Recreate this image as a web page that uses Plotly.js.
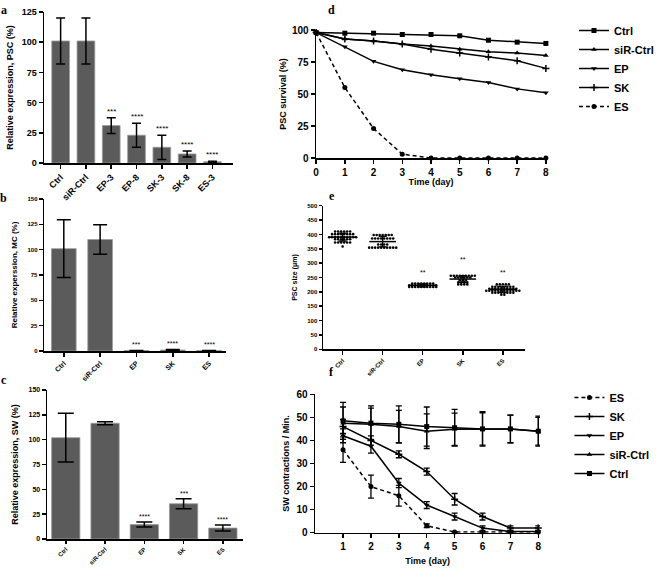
<!DOCTYPE html>
<html><head><meta charset="utf-8">
<script src="https://cdn.plot.ly/plotly-3.0.1.min.js"></script>
<style>html,body{margin:0;padding:0;background:#fff}#chart{width:659px;height:568px}</style>
</head><body><div id="chart"></div>
<script>
// ---------- Panel a ----------
const aCats = ['Ctrl','siR-Ctrl','EP-3','EP-8','SK-3','SK-8','ES-3'];
const aVals = [101,101,31,23,13,7.5,1];
const aErr = [19,19,6.5,10,10,2.5,0.5];
const aStars = ['','','***','****','****','****','****'];
// ---------- Panel b ----------
const bCats = ['Ctrl','siR-Ctrl','EP','SK','ES'];
const bVals = [101,110,0.5,1,0.5];
const bErr = [28.5,14.5,0,0.5,0];
const bStars = ['','','***','****','****'];
// ---------- Panel c ----------
const cCats = ['Ctrl','siR-Ctrl','EP','SK','ES'];
const cVals = [102,116.5,14.5,35.5,11];
const cErr = [24.5,1.5,2.5,5,3];
const cStars = ['','','****','***','****'];
// ---------- Panel d ----------
const dDays = [0,1,2,3,4,5,6,7,8];
const dCtrl = [98,97.5,97.5,96.5,96.5,95.5,92,90.5,89.5];
const dSiR  = [98,93,91.5,89,87.5,85,83,82,80];
const dEP   = [98,87,75.5,69,65,62,59,54,51];
const dSK   = [98,93,91.5,89,85,82,79,76,70];
const dES   = [98,55,23,3,0,0,0,0,0];
// ---------- Panel e ----------
const eCats = ['Ctrl','siR-Ctrl','EP','SK','ES'];
const eCtrl = [410,410,410,410,410,410, 401,401,401,401,401,401,401,401, 390,390,390,390,390,390,390,390,390,390, 383,383,383,383,383,383, 372,372,372,372,372,372, 358];
const eSiR  = [398,398,398,398,398,398,398, 386,386,386,386,386,386,386,386, 365,365,365,365, 354,354,354,354,354,354,354,354,354,354];
const eEP   = [229,229,229,229,229,229,229,229, 223,223,223,223,223,223,223,223,223,223, 217,217,217,217,217,217,217,217,217,217];
const eSK   = [256,256,256,256,256,256,256,256,256, 250,250,250,250,250,250, 240,240,240, 233,233,233,233, 226,226,226,226];
const eES   = [226,226,226,226,226, 218,218,218,218,218,218,218,218, 211,211,211,211,211,211,211,211,211,211, 204,204,204,204,204,204,204,204,204,204,204,204, 197,197,197,197,197,197,197,197, 190,190];
const eStars = ['','','**','**','**'];
const eStarY = [0,0,269,314,269];
// ---------- Panel f ----------
const fDays = [1,2,3,4,5,6,7,8];
const fES    = [36,20,16,3,0.3,0.3,0.3,0.3];
const fESerr = [5.5,5,4.5,0.8,0.2,0.2,0.2,0.2];
const fSK    = [46,40,34,26.5,14.5,7,2,2];
const fSKerr = [3,2,1.5,1.5,2.5,1.5,1,1];
const fEP    = [42,37.5,21.5,12,7,2,0.5,0.5];
const fEPerr = [3,3,2,1.5,1.5,1,0.5,0.5];
const fSiR   = [47.5,47,46,44,44.8,45,45,44];
const fSiRerr= [7,7,7,7.5,7,7,6,6];
const fCtrl  = [48.5,47.5,47,46,45.5,45,45,44];
const fCtrlerr=[8,7.5,8,8.5,8,7.5,6,6.5];

const BAR = '#5b5b5b';
const FONT = 'Arial, "Liberation Sans", sans-serif';
const DASH = '4px,3px';
const W = 659, H = 568;
const px = v => v / W, py = v => 1 - v / H;

const traces = [];
const annotations = [];

function barPanel(cats, vals, err, stars, xa, ya, bw, capw, starSize) {
  const xs = cats.map((c, i) => i);
  traces.push({
    type: 'bar', x: xs, y: vals, width: bw, xaxis: xa, yaxis: ya,
    marker: {color: BAR, line: {color: '#9a9a9a', width: 0.8}},
    error_y: {type: 'data', array: err, visible: true, color: '#000', thickness: 1.5, width: capw},
    showlegend: false, hoverinfo: 'skip'
  });
  stars.forEach((s, i) => {
    if (!s) return;
    annotations.push({xref: xa, yref: ya, x: i, y: vals[i] + err[i], text: s, showarrow: false,
      yanchor: 'bottom', font: {family: FONT, size: starSize, color: '#000'}});
  });
}
barPanel(aCats, aVals, aErr, aStars, 'x', 'y', 0.7, 4.5, 8);
barPanel(bCats, bVals, bErr, bStars, 'x2', 'y2', 0.68, 7, 7);
barPanel(cCats, cVals, cErr, cStars, 'x3', 'y3', 0.72, 8, 7);

// ---------- d traces ----------
const dSeries = [
  ['Ctrl', dCtrl, 'square', 'solid'],
  ['siR-Ctrl', dSiR, 'triangle-up', 'solid'],
  ['EP', dEP, 'triangle-down', 'solid'],
  ['SK', dSK, 'cross-thin', 'solid'],
  ['ES', dES, 'circle', DASH]
];
dSeries.forEach(([name, ys, sym, dash]) => {
  traces.push({type: 'scatter', mode: 'lines+markers', name, x: dDays, y: ys, xaxis: 'x4', yaxis: 'y4',
    line: {color: '#000', width: 1.5, dash}, cliponaxis: false,
    marker: {symbol: sym, size: 5, color: '#000', line: {color: '#000', width: sym === 'cross-thin' ? 1.5 : 0}},
    legend: 'legend', hoverinfo: 'skip'});
});

// ---------- e traces ----------
function swarm(vals, center, step) {
  const counts = {}, seen = {};
  vals.forEach(v => counts[v] = (counts[v] || 0) + 1);
  return vals.map(v => { seen[v] = seen[v] || 0; const i = seen[v]++; return center + (i - (counts[v] - 1) / 2) * step; });
}
[eCtrl, eSiR, eEP, eSK, eES].forEach((vals, i) => {
  traces.push({type: 'scatter', mode: 'markers', x: swarm(vals, i, 0.075), y: vals, xaxis: 'x5', yaxis: 'y5',
    marker: {size: 2.6, color: '#000'}, showlegend: false, hoverinfo: 'skip', cliponaxis: false});
  const mean = vals.reduce((a, b) => a + b, 0) / vals.length;
  const sd = Math.sqrt(vals.reduce((a, b) => a + (b - mean) ** 2, 0) / (vals.length - 1));
  traces.push({type: 'scatter', mode: 'markers', x: [i], y: [mean], xaxis: 'x5', yaxis: 'y5',
    marker: {symbol: 'line-ew', size: 19, color: '#000', line: {color: '#000', width: 1.5}},
    error_y: {type: 'data', array: [sd], visible: true, color: '#000', thickness: 1.3, width: 4},
    showlegend: false, hoverinfo: 'skip', cliponaxis: false});
  if (eStars[i]) annotations.push({xref: 'x5', yref: 'y5', x: i, y: eStarY[i], text: eStars[i], showarrow: false,
    font: {family: FONT, size: 7, color: '#000'}});
});

// ---------- f traces ----------
const fSeries = [
  ['ES', fES, fESerr, 'circle', DASH],
  ['SK', fSK, fSKerr, 'cross-thin', 'solid'],
  ['EP', fEP, fEPerr, 'triangle-down', 'solid'],
  ['siR-Ctrl', fSiR, fSiRerr, 'triangle-up', 'solid'],
  ['Ctrl', fCtrl, fCtrlerr, 'square', 'solid']
];
fSeries.forEach(([name, ys, err, sym, dash]) => {
  traces.push({type: 'scatter', mode: 'lines+markers', name, x: fDays, y: ys, xaxis: 'x6', yaxis: 'y6',
    line: {color: '#000', width: 1.5, dash}, cliponaxis: false,
    marker: {symbol: sym, size: 5, color: '#000', line: {color: '#000', width: sym === 'cross-thin' ? 1.5 : 0}},
    error_y: {type: 'data', array: err, visible: true, color: '#000', thickness: 1.3, width: 3},
    legend: 'legend2', hoverinfo: 'skip'});
});

function axis(extra) {
  return Object.assign({
    showline: true, linecolor: '#000', linewidth: 1.5, ticks: 'outside', ticklen: 4, tickwidth: 1.5, tickcolor: '#000',
    showgrid: false, zeroline: false, fixedrange: true,
    tickfont: {family: FONT, size: 9, color: '#000', weight: 'bold'}
  }, extra);
}
const titleFont = s => ({family: FONT, size: s, color: '#000', weight: 'bold'});

const layout = {
  width: W, height: H, margin: {l: 0, r: 0, t: 0, b: 0},
  paper_bgcolor: '#fff', plot_bgcolor: 'rgba(0,0,0,0)',
  font: {family: FONT, color: '#000'},
  // a
  xaxis: axis({domain: [px(45), px(237)], range: [-0.65, 6.8], anchor: 'y', tickvals: aCats.map((c, i) => i), ticktext: aCats, tickangle: -45}),
  yaxis: axis({domain: [py(163), py(12)], range: [0, 125], dtick: 25, anchor: 'x',
    title: {text: 'Relative expression, PSC (%)', font: titleFont(9), standoff: 6}}),
  // b
  xaxis2: axis({domain: [px(45), px(230)], range: [-0.54, 4.46], anchor: 'y2', tickvals: bCats.map((c, i) => i), ticktext: bCats, tickangle: -45,
    tickfont: {family: FONT, size: 7, color: '#000', weight: 'bold'}}),
  yaxis2: axis({domain: [py(351), py(199)], range: [0, 150], dtick: 25, anchor: 'x2',
    tickfont: {family: FONT, size: 6, color: '#000', weight: 'bold'},
    title: {text: 'Relative experssion, MC (%)', font: titleFont(8), standoff: 8}}),
  // c
  xaxis3: axis({domain: [px(48), px(247)], range: [-0.475, 4.5], anchor: 'y3', tickvals: cCats.map((c, i) => i), ticktext: cCats, tickangle: -45,
    ticklen: 3, tickfont: {family: FONT, size: 6, color: '#000', weight: 'bold'}}),
  yaxis3: axis({domain: [py(539), py(390)], range: [0, 150], dtick: 25, anchor: 'x3',
    tickfont: {family: FONT, size: 7, color: '#000', weight: 'bold'},
    title: {text: 'Relative expression, SW (%)', font: titleFont(9), standoff: 8}}),
  // d
  xaxis4: axis({domain: [px(322), px(556)], range: [0, 8], dtick: 1, anchor: 'y4',
    tickfont: {family: FONT, size: 10, color: '#000', weight: 'bold'},
    title: {text: 'Time (day)', font: titleFont(9), standoff: 2}}),
  yaxis4: axis({domain: [py(158), py(30)], range: [0, 100], dtick: 25, anchor: 'x4',
    tickfont: {family: FONT, size: 10, color: '#000', weight: 'bold'},
    title: {text: 'PSC survival (%)', font: titleFont(9), standoff: 4}}),
  // e
  xaxis5: axis({domain: [px(329), px(535)], range: [-0.49, 4.56], anchor: 'y5', tickvals: eCats.map((c, i) => i), ticktext: eCats, tickangle: -45,
    tickfont: {family: FONT, size: 6, color: '#000', weight: 'bold'}}),
  yaxis5: axis({domain: [py(349.3), py(205.7)], range: [0, 500], dtick: 50, anchor: 'x5', ticklen: 3,
    tickfont: {family: FONT, size: 6, color: '#000', weight: 'bold'},
    title: {text: 'PSC size (μm)', font: titleFont(7), standoff: 9}}),
  // f
  xaxis6: axis({domain: [px(321), px(550)], range: [0, 8.06], tickvals: [1,2,3,4,5,6,7,8], anchor: 'y6',
    tickfont: {family: FONT, size: 10, color: '#000', weight: 'bold'},
    title: {text: 'Time (day)', font: titleFont(9), standoff: 6}}),
  yaxis6: axis({domain: [py(532.7), py(394.3)], range: [0, 60], dtick: 10, anchor: 'x6',
    tickfont: {family: FONT, size: 10, color: '#000', weight: 'bold'},
    title: {text: 'SW contractions / Min.', font: titleFont(9), standoff: 5}}),
  legend: {x: px(585), y: py(16), xanchor: 'left', yanchor: 'top', bgcolor: 'rgba(0,0,0,0)',
    font: {family: FONT, size: 11, color: '#000', weight: 'bold'}, tracegroupgap: 0, itemwidth: 30},
  legend2: {x: px(580), y: py(383), xanchor: 'left', yanchor: 'top', bgcolor: 'rgba(0,0,0,0)',
    font: {family: FONT, size: 11, color: '#000', weight: 'bold'}, tracegroupgap: 0, itemwidth: 30},
  annotations: annotations.concat([
    ['a', 4, 10], ['b', 4, 198], ['c', 4, 380], ['d', 338, 10], ['e', 338, 196], ['f', 338, 372]
  ].map(([t, x, y]) => ({xref: 'paper', yref: 'paper', x: px(x), y: py(y), text: t, showarrow: false,
    xanchor: 'center', yanchor: 'middle', font: {family: '"Liberation Serif", "Times New Roman", serif', size: 12, color: '#000', weight: 'bold'}})))
};

Plotly.newPlot('chart', traces, layout, {staticPlot: true, displayModeBar: false});
</script>
</body></html>
